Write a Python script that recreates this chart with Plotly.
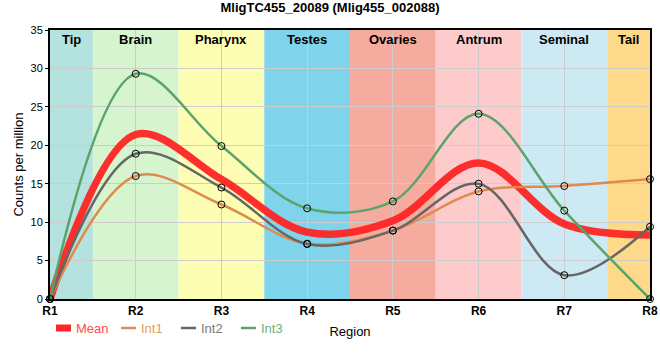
import plotly.graph_objects as go

regions = ["R1", "R2", "R3", "R4", "R5", "R6", "R7", "R8"]
int1 = [0, 16.0, 12.3, 7.2, 8.9, 14.0, 14.7, 15.6]
int2 = [0, 18.9, 14.5, 7.15, 8.9, 15.0, 3.1, 9.4]
int3 = [0, 29.3, 19.9, 11.8, 12.7, 24.1, 11.5, 0]
mean = [0, 21.4, 15.57, 8.7, 10.17, 17.7, 9.77, 8.33]

band_names = ["Tip", "Brain", "Pharynx", "Testes", "Ovaries", "Antrum", "Seminal", "Tail"]
band_colors = ["#b4e2de", "#d6f5cf", "#fdfdb4", "#7fd4eb", "#f5ac9f", "#fdcbcc", "#cdeaf4", "#fdd98a"]

series_names = ["Mean", "Int1", "Int2", "Int3"]
series_colors = ["#ff2525", "#df8b4d", "#666666", "#5aa46a"]
legend_text_colors = ["#ff4a4a", "#e69a62", "#7a7a7a", "#6db07c"]

xs = list(range(1, len(regions) + 1))
FONT = "Liberation Sans, Arial, sans-serif"

# plot area geometry (pixels) for paper-coordinate helpers
L, R, T, B = 50, 10, 30, 61
PW, PH = 660 - L - R, 360 - T - B


def px(xp):
    return (xp - L) / PW


def py(yp):
    return (360 - B - yp) / PH


fig = go.Figure()

for name, vals, col in zip(series_names, [mean, int1, int2, int3], series_colors):
    is_mean = name == "Mean"
    fig.add_trace(go.Scatter(
        x=xs, y=vals, name=name, showlegend=False, hoverinfo="skip",
        mode="lines" if is_mean else "lines+markers",
        line=dict(color=col, width=7.5 if is_mean else 2.5, shape="spline", smoothing=1.0),
        opacity=0.95 if is_mean else 1,
        marker=dict(size=7, color="rgba(0,0,0,0)", line=dict(color="black", width=1)),
        cliponaxis=False,
    ))

shapes = []
annotations = []
for i, (bn, bc) in enumerate(zip(band_names, band_colors)):
    x0 = max(1, xs[i] - 0.5)
    x1 = min(len(xs), xs[i] + 0.5)
    shapes.append(dict(type="rect", xref="x", yref="y", x0=x0, x1=x1, y0=0, y1=35,
                       fillcolor=bc, line=dict(width=0), layer="below"))
    annotations.append(dict(x=(x0 + x1) / 2, y=35, xref="x", yref="y", text=f"<b>{bn}</b>",
                            showarrow=False, yanchor="top", yshift=0,
                            font=dict(family=FONT, size=13, color="black")))

# custom legend
leg_x = [56, 121, 181, 241]
leg_y = 328
for i, (name, col, tcol) in enumerate(zip(series_names, series_colors, legend_text_colors)):
    x0 = leg_x[i]
    if name == "Mean":
        shapes.append(dict(type="rect", xref="paper", yref="paper",
                           x0=px(x0), x1=px(x0 + 15), y0=py(leg_y + 3.5), y1=py(leg_y - 3.5),
                           fillcolor=col, line=dict(width=0)))
    else:
        shapes.append(dict(type="line", xref="paper", yref="paper",
                           x0=px(x0), x1=px(x0 + 15), y0=py(leg_y), y1=py(leg_y),
                           line=dict(color=col, width=2.5)))
    annotations.append(dict(x=px(x0 + 18), y=py(leg_y), xref="paper", yref="paper",
                            text=name, showarrow=False, xanchor="left", yanchor="middle",
                            font=dict(family=FONT, size=13, color=tcol)))

fig.update_layout(
    width=660, height=360,
    margin=dict(l=L, r=R, t=T, b=B),
    paper_bgcolor="white", plot_bgcolor="rgba(0,0,0,0)",
    title=dict(text="<b>MligTC455_20089 (Mlig455_002088)</b>", x=0.5, xanchor="center",
               y=1 - 2.5 / 360, yanchor="top", yref="container",
               font=dict(family=FONT, size=13, color="black")),
    shapes=shapes, annotations=annotations,
    showlegend=False, hovermode=False,
    font=dict(family=FONT, color="black"),
)
fig.update_xaxes(range=[1, 8], tickvals=xs, ticktext=[f"<b>{r}</b>" for r in regions],
                 showgrid=True, gridcolor="#cccccc", gridwidth=1,
                 showline=True, linecolor="black", linewidth=2, mirror=True,
                 ticks="", tickfont=dict(family=FONT, size=12, color="black"),
                 title=dict(text="Region", font=dict(family=FONT, size=13), standoff=9),
                 zeroline=False, automargin=False)
fig.update_yaxes(range=[0, 35], dtick=5, showgrid=True, gridcolor="#cccccc", gridwidth=1,
                 showline=True, linecolor="black", linewidth=2, mirror=True,
                 ticks="outside", ticklen=3, tickcolor="black",
                 tickfont=dict(family=FONT, size=11, color="black"),
                 title=dict(text="Counts per million", font=dict(family=FONT, size=13), standoff=4),
                 zeroline=False, automargin=False)

fig.write_html("out.html", config={"displayModeBar": False, "staticPlot": True},
               post_script="document.body.style.margin='0';document.body.style.overflow='hidden';")
